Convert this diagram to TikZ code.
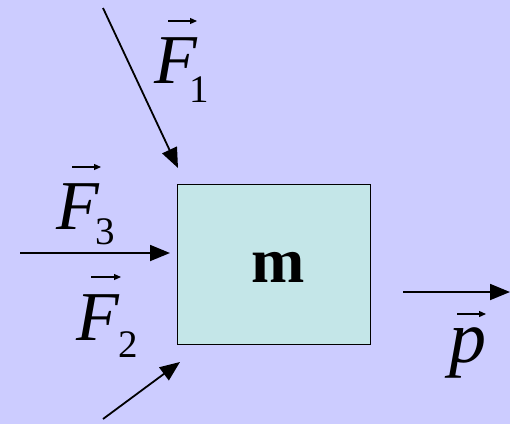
\documentclass[tikz,border=0pt]{standalone}
\usepackage{fontspec}
\setmainfont{Liberation Serif}
\usetikzlibrary{arrows.meta}
\definecolor{bg}{RGB}{204,204,255}
\definecolor{boxfill}{RGB}{196,230,232}
\newcommand{\forcelabel}[3]{F\kern#1pt\raisebox{-#2pt}{\fontsize{39}{39}\selectfont\upshape #3}}
\tikzset{
  force/.style={line width=1.8pt,-{Triangle[length=20pt,width=16pt]}},
  vecarrow/.style={line width=1.2pt,-{Triangle[length=7pt,width=6pt]}},
  letter/.style={inner sep=0pt,anchor=base west,font=\fontsize{70}{70}\selectfont\itshape},
}
\begin{document}
\begin{tikzpicture}[x=1pt,y=-1pt]
\fill[bg] (0,0) rectangle (510,424);
\useasboundingbox (0,0) rectangle (510,424);
% mass box
\node[draw=black,line width=1.5pt,fill=boxfill,minimum width=193pt,minimum height=160pt,inner sep=0pt] (box) at (274,264.5) {};
\node[inner sep=0pt,anchor=base,font=\fontsize{64}{64}\selectfont\bfseries] (m) at (278,282) {m};
% force arrows
\coordinate (f1s) at (103,8);
\coordinate (f1e) at (178,168);
\draw[force] (f1s) -- (f1e);
\coordinate (f3s) at (20,253);
\coordinate (f3e) at (170,253);
\draw[force] (f3s) -- (f3e);
\coordinate (f2s) at (103,419);
\coordinate (f2e) at (180,362);
\draw[force] (f2s) -- (f2e);
\coordinate (ps) at (403,292);
\coordinate (pe) at (510,292);
\draw[force] (ps) -- (pe);
% labels
\node[letter] (F1) at (154,83) {\forcelabel{-7}{19}{1}};
\coordinate (a1s) at (168,21); \coordinate (a1e) at (197,21);
\draw[vecarrow] (a1s) -- (a1e);
\node[letter] (F3) at (56,229) {\forcelabel{-3}{15}{3}};
\coordinate (a3s) at (72,167); \coordinate (a3e) at (101,167);
\draw[vecarrow] (a3s) -- (a3e);
\node[letter] (F2) at (76,340) {\forcelabel{0}{17}{2}};
\coordinate (a2s) at (91,277); \coordinate (a2e) at (121,277);
\draw[vecarrow] (a2s) -- (a2e);
\node[letter,font=\fontsize{74}{74}\selectfont\itshape] (p) at (449,362) {p};
\coordinate (aps) at (457,314); \coordinate (ape) at (486,314);
\draw[vecarrow] (aps) -- (ape);
\end{tikzpicture}
\end{document}
